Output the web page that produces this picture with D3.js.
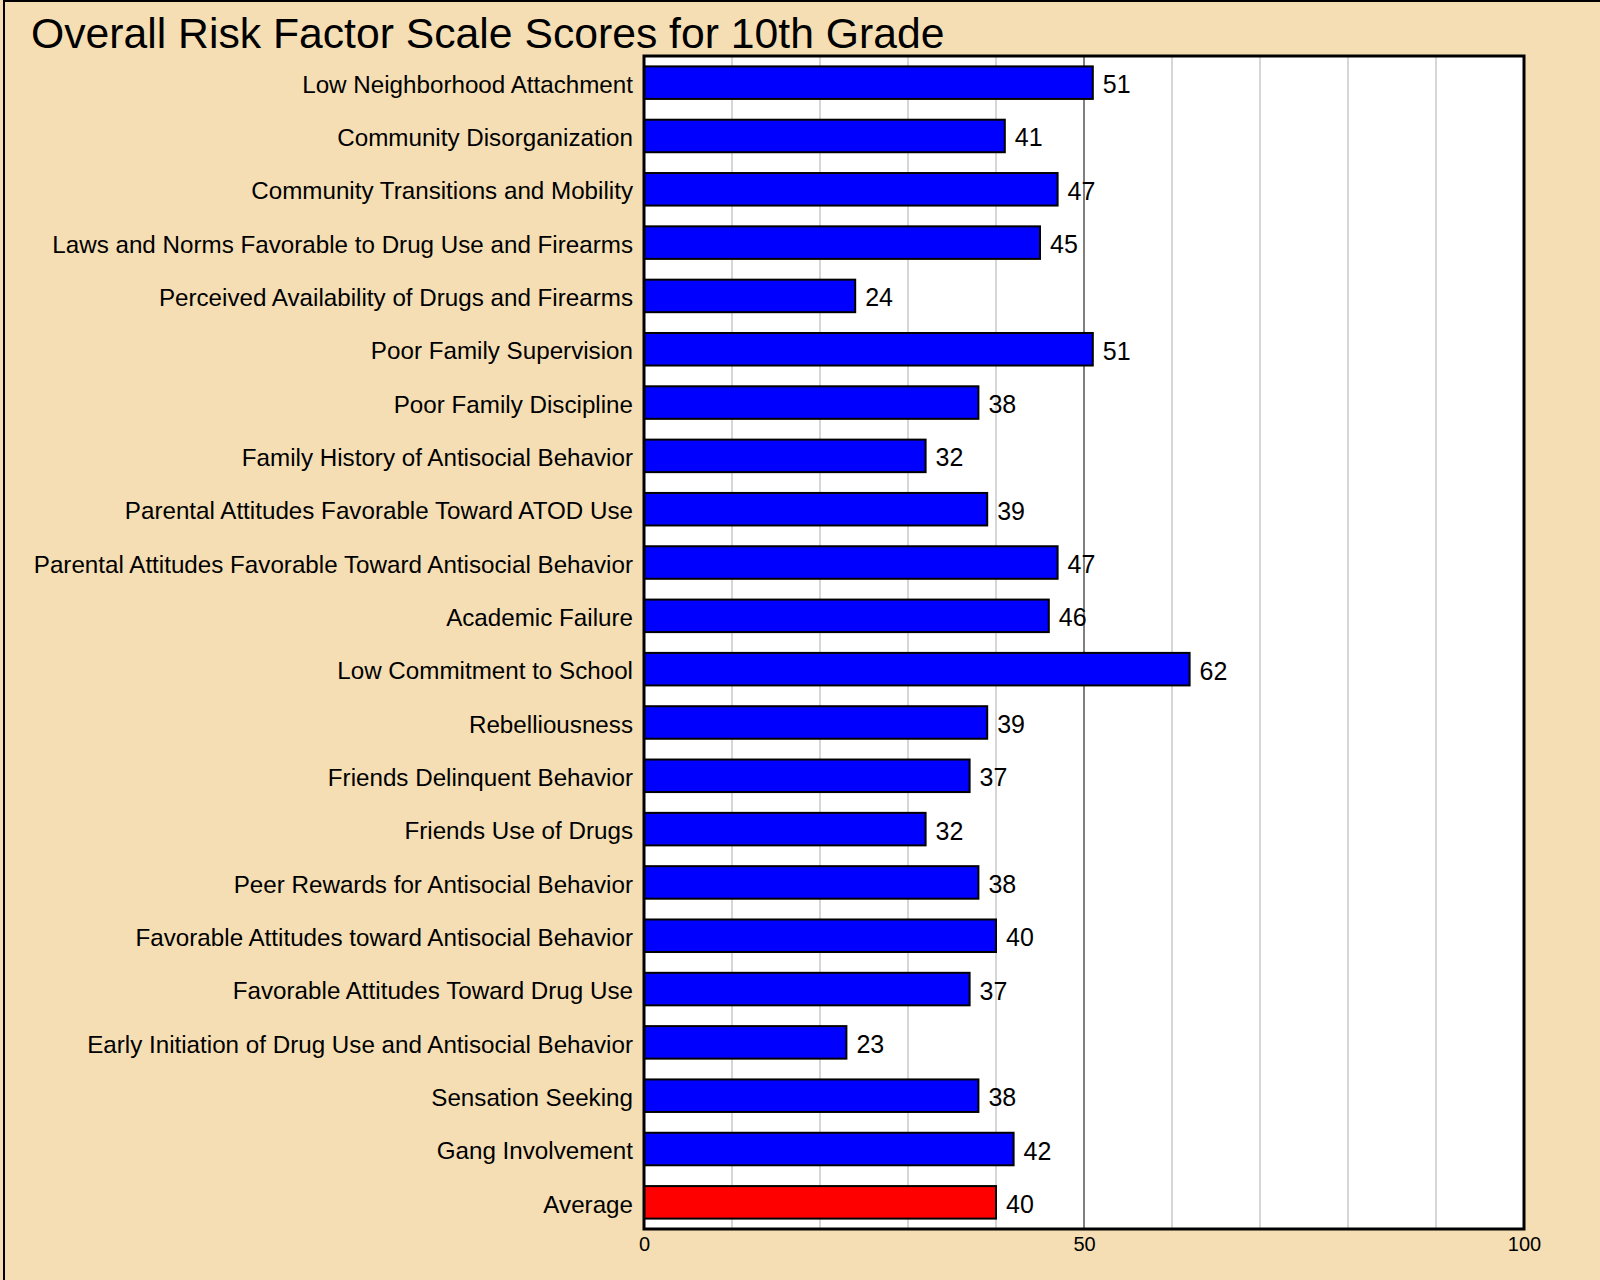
<!DOCTYPE html>
<html>
<head>
<meta charset="utf-8">
<script src="https://cdn.jsdelivr.net/npm/d3@7"></script>
<style>
  html, body { margin: 0; padding: 0; background: #F5DEB3; }
  svg { display: block; }
  text { font-family: "Liberation Sans", Arial, sans-serif; fill: #000; }
</style>
</head>
<body>
<script>
// Risk factor scale names, top to bottom
const categories = [
  "Low Neighborhood Attachment",
  "Community Disorganization",
  "Community Transitions and Mobility",
  "Laws and Norms Favorable to Drug Use and Firearms",
  "Perceived Availability of Drugs and Firearms",
  "Poor Family Supervision",
  "Poor Family Discipline",
  "Family History of Antisocial Behavior",
  "Parental Attitudes Favorable Toward ATOD Use",
  "Parental Attitudes Favorable Toward Antisocial Behavior",
  "Academic Failure",
  "Low Commitment to School",
  "Rebelliousness",
  "Friends Delinquent Behavior",
  "Friends Use of Drugs",
  "Peer Rewards for Antisocial Behavior",
  "Favorable Attitudes toward Antisocial Behavior",
  "Favorable Attitudes Toward Drug Use",
  "Early Initiation of Drug Use and Antisocial Behavior",
  "Sensation Seeking",
  "Gang Involvement",
  "Average"
];

// Scale scores for 10th grade
const scores = [51, 41, 47, 45, 24, 51, 38, 32, 39, 47, 46, 62, 39, 37, 32, 38, 40, 37, 23, 38, 42, 40];

// Axis ticks and gridlines
const tickValues = [0, 50, 100];
const gridValues = [10, 20, 30, 40, 50, 60, 70, 80, 90];

const title = "Overall Risk Factor Scale Scores for 10th Grade";

const W = 1600, H = 1280;
const plot = { left: 644, right: 1524, top: 56, bottom: 1229 };

const svg = d3.select("body").append("svg")
  .attr("width", W).attr("height", H);

// page background with a border along top and left
svg.append("rect")
  .attr("x", 0).attr("y", 0).attr("width", W).attr("height", H)
  .attr("fill", "#F5DEB3");
svg.append("path")
  .attr("d", `M4,${H + 5} V1 H${W + 5}`)
  .attr("fill", "none").attr("stroke", "#000").attr("stroke-width", 2);

svg.append("text")
  .attr("x", 31).attr("y", 48)
  .attr("font-size", 42.7)
  .text(title);

const x = d3.scaleLinear().domain([0, 100]).range([plot.left, plot.right]);
const y = d3.scaleBand().domain(categories)
  .range([plot.top, plot.bottom])
  .paddingInner(0.39).paddingOuter(0.195);

// plot area
svg.append("rect")
  .attr("x", plot.left).attr("y", plot.top)
  .attr("width", plot.right - plot.left).attr("height", plot.bottom - plot.top)
  .attr("fill", "#fff");

svg.append("g").selectAll("line").data(gridValues).join("line")
  .attr("x1", d => x(d)).attr("x2", d => x(d))
  .attr("y1", plot.top).attr("y2", plot.bottom)
  .attr("stroke", d => d === 50 ? "#808080" : "#d6d6d6")
  .attr("stroke-width", 2);

const data = categories.map((c, i) => ({ name: c, value: scores[i] }));

svg.append("g").selectAll("rect").data(data).join("rect")
  .attr("x", x(0))
  .attr("y", d => y(d.name))
  .attr("width", d => x(d.value) - x(0))
  .attr("height", y.bandwidth())
  .attr("fill", d => d.name === "Average" ? "#FF0000" : "#0000FF")
  .attr("stroke", "#000").attr("stroke-width", 2);

// value labels
svg.append("g").selectAll("text").data(data).join("text")
  .attr("x", d => x(d.value) + 10)
  .attr("y", d => y(d.name) + y.bandwidth() / 2)
  .attr("dy", "0.42em")
  .attr("font-size", 25)
  .text(d => d.value);

// category labels
svg.append("g").selectAll("text").data(data).join("text")
  .attr("x", plot.left - 11)
  .attr("y", d => y(d.name) + y.bandwidth() / 2)
  .attr("dy", "0.42em")
  .attr("text-anchor", "end")
  .attr("font-size", 24.2)
  .text(d => d.name);

// frame
svg.append("rect")
  .attr("x", plot.left).attr("y", plot.top)
  .attr("width", plot.right - plot.left).attr("height", plot.bottom - plot.top)
  .attr("fill", "none").attr("stroke", "#000").attr("stroke-width", 3);

// x axis
const axis = svg.append("g")
  .attr("transform", `translate(0,${plot.bottom})`)
  .call(d3.axisBottom(x).tickValues(tickValues).tickSize(0).tickPadding(8));
axis.select(".domain").remove();
axis.selectAll("text")
  .attr("font-size", 20)
  .attr("font-family", "Liberation Sans, Arial, sans-serif")
  .attr("fill", "#000");
</script>
</body>
</html>
